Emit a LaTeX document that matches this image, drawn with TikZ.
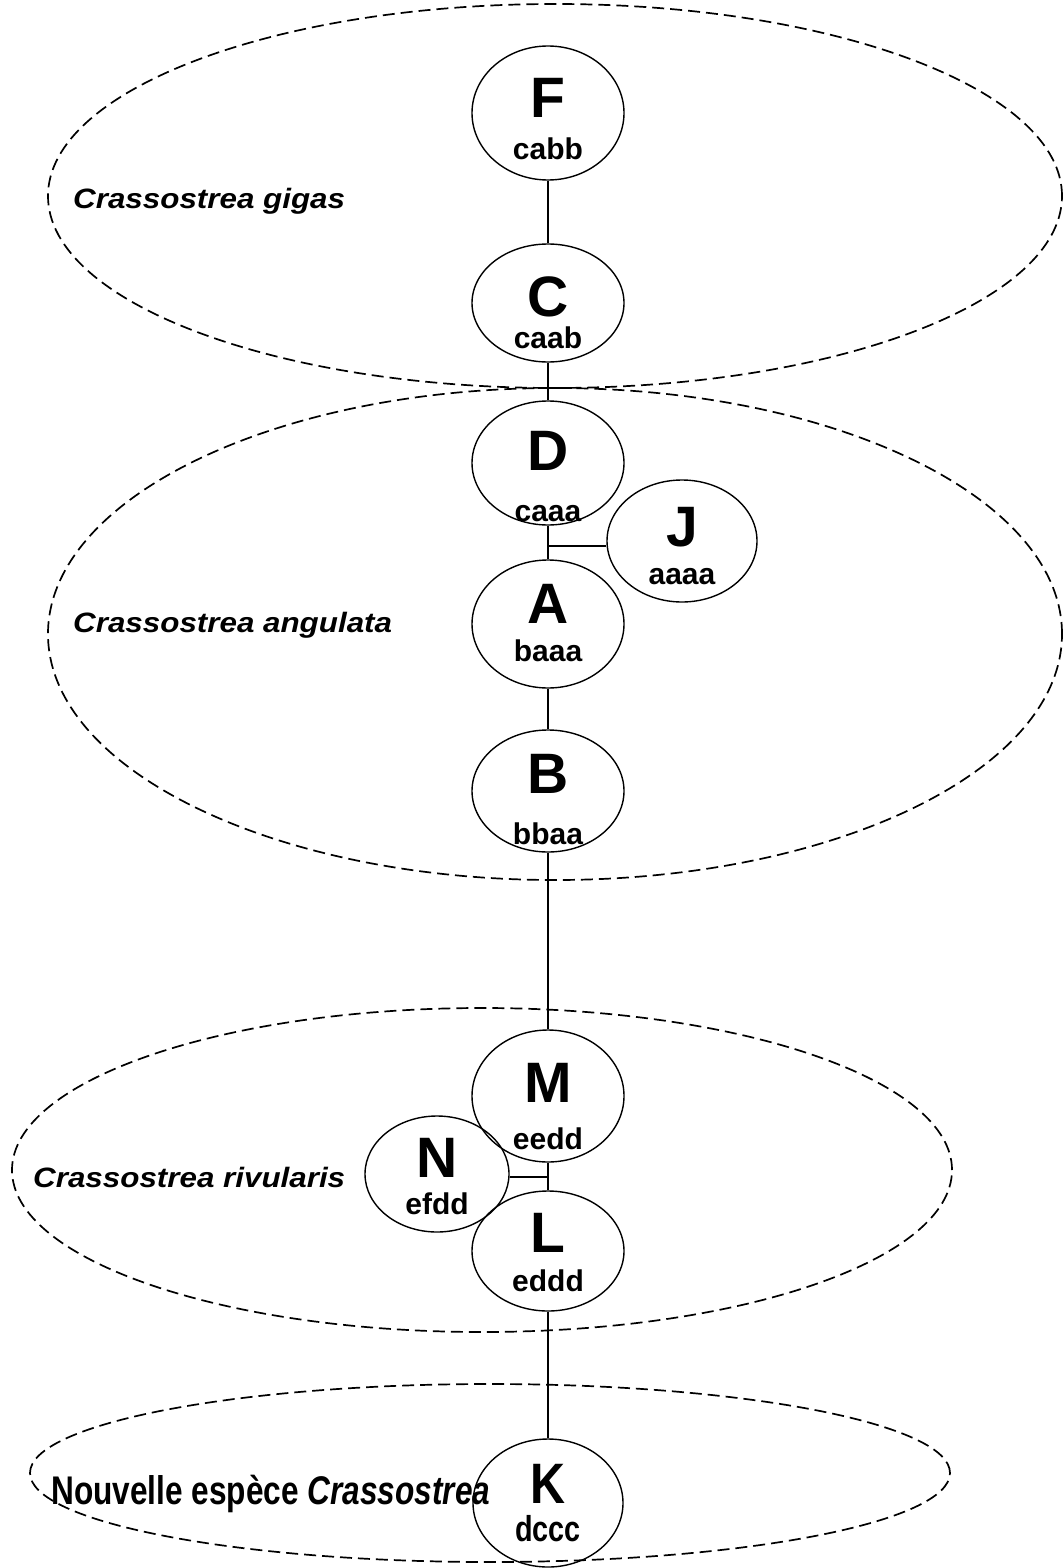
\documentclass[tikz,border=0pt]{standalone}
\usepackage{fontspec}
\usepackage{graphicx}
\setmainfont{Liberation Sans}
\usetikzlibrary{shapes.geometric,calc}
\begin{document}
\begin{tikzpicture}[x=1bp,y=-1bp,
  hap/.style={ellipse,draw,line width=1.4bp,inner sep=0pt,minimum width=152bp},
  big/.style={anchor=base,inner sep=0pt,font=\fontsize{57bp}{60bp}\selectfont\bfseries},
  code/.style={anchor=base,inner sep=0pt,font=\fontsize{30bp}{32bp}\selectfont\bfseries},
  group/.style={draw,dash pattern=on 12bp off 6bp,line width=1.7bp},
  species/.style={anchor=base west,inner sep=0pt,font=\fontsize{28bp}{30bp}\selectfont\bfseries\itshape},
  link/.style={line width=1.3bp}]
\useasboundingbox (0,0) rectangle (1063,1568);

% species groups
\draw[group] (555,196) ellipse [x radius=507bp, y radius=192bp];
\draw[group] (555,634) ellipse [x radius=507bp, y radius=246bp];
\draw[group] (482,1170) ellipse [x radius=470bp, y radius=162bp];
\draw[group] (490,1473) ellipse [x radius=460bp, y radius=89bp];

\node[species] (sg) at (73,208) {\scalebox{1.12}[1]{Crassostrea gigas}};
\node[species] (sa) at (73,632) {\scalebox{1.12}[1]{Crassostrea angulata}};
\node[species] (sr) at (33,1187) {\scalebox{1.12}[1]{Crassostrea rivularis}};
\node[anchor=base west,inner sep=0pt,font=\fontsize{40bp}{44bp}\selectfont\bfseries] (sn) at (51,1504)
  {\scalebox{0.79}[1]{Nouvelle espèce \textit{Crassostrea}}};

% haplotypes
\node[hap,minimum height=134bp] (F) at (548,113) {};
\node[hap,minimum height=118bp] (C) at (548,303) {};
\node[hap,minimum height=124bp] (D) at (548,463) {};
\node[hap,minimum width=150bp,minimum height=122bp] (J) at (682,541) {};
\node[hap,minimum height=128bp] (A) at (548,624) {};
\node[hap,minimum height=122bp] (B) at (548,791) {};
\node[hap,minimum height=132bp] (M) at (548,1096) {};
\node[hap,minimum width=144bp,minimum height=116bp] (N) at (437,1174) {};
\node[hap,minimum height=120bp] (L) at (548,1251) {};
\node[hap,minimum width=150bp,minimum height=128bp] (K) at (548,1503) {};

\node[big] (Fl) at (548,118) {F};   \node[code] (Fc) at (548,159) {cabb};
\node[big] (Cl) at (548,316) {C};   \node[code] (Cc) at (548,348) {caab};
\node[big] (Dl) at (548,470) {D};   \node[code] (Dc) at (548,521) {caaa};
\node[big] (Jl) at (682,546) {J};   \node[code] (Jc) at (682,584) {aaaa};
\node[big] (Al) at (548,623) {A};   \node[code] (Ac) at (548,661) {baaa};
\node[big] (Bl) at (548,793) {B};   \node[code] (Bc) at (548,844) {bbaa};
\node[big] (Ml) at (548,1102) {M};  \node[code] (Mc) at (548,1149) {eedd};
\node[big] (Nl) at (437,1177) {N};  \node[code] (Nc) at (437,1214) {efdd};
\node[big] (Ll) at (548,1252) {L};  \node[code] (Ll2) at (548,1291) {eddd};
\node[big] (Kl) at (548,1503) {\scalebox{0.85}[1]{K}};
\node[code,font=\fontsize{36bp}{40bp}\selectfont\bfseries] (Kc) at (548,1541) {\scalebox{0.8}[1]{dccc}};

% connectors
\draw[link] (F) -- (C);
\draw[link] (C) -- (D);
\draw[link] (D) -- (A);
\coordinate (jDA) at (548,546);
\draw[link] (jDA) -- (jDA -| J.west);
\draw[link] (A) -- (B);
\draw[link] (B) -- (M);
\draw[link] (M) -- (L);
\coordinate (jML) at (548,1177);
\draw[link] (jML) -- (jML -| N.east);
\draw[link] (L) -- (K);
\end{tikzpicture}
\end{document}
